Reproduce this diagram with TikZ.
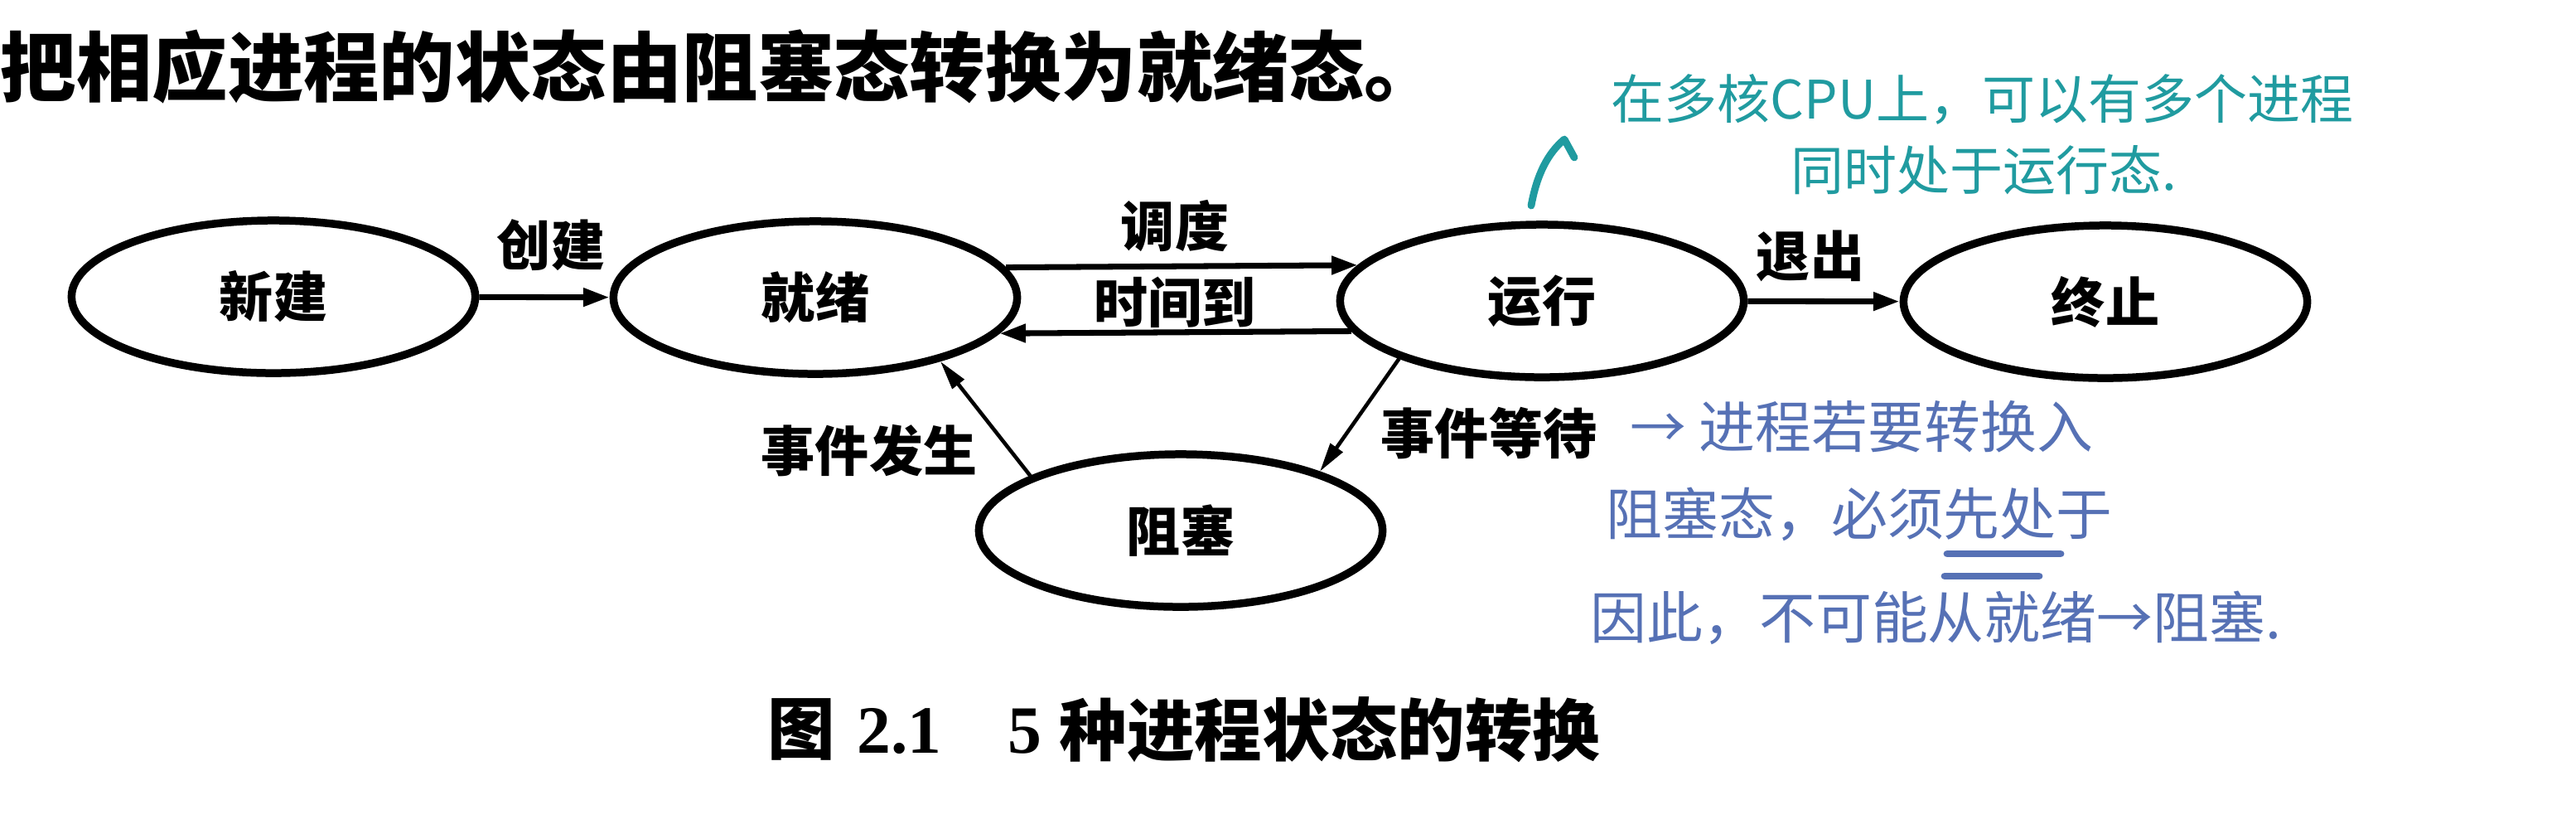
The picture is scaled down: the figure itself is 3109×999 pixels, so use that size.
\documentclass[tikz,border=0pt]{standalone}
\usepackage{fontspec}
\usetikzlibrary{shapes.geometric,arrows.meta}
\newfontfamily\cjk{Noto Sans CJK SC}
\newfontfamily\lserif{Liberation Serif}
\definecolor{hwteal}{RGB}{32,155,160}
\definecolor{hwblue}{RGB}{86,113,181}
\begin{document}
\begin{tikzpicture}[x=0.01cm,y=-0.01cm,
  state/.style={ellipse, draw, line width=2.7pt, minimum width=4.87cm, minimum height=1.84cm, inner sep=0pt,
    font=\cjk\bfseries\fontsize{18.5pt}{20pt}\selectfont},
  lbl/.style={font=\cjk\bfseries\fontsize{18.5pt}{20pt}\selectfont, inner sep=0pt},
  flow/.style={line width=2pt, -{Triangle[length=9pt,width=6pt]}},
  diag/.style={line width=1.3pt, -{Triangle[length=10pt,width=5pt]}},
  captext/.style={font=\cjk\bfseries\fontsize{23.2pt}{25pt}\selectfont, inner sep=0pt},
  capnum/.style={font=\lserif\bfseries\fontsize{23.2pt}{25pt}\selectfont, inner sep=0pt},
  hwt/.style={text=hwteal, font=\cjk\fontsize{18.2pt}{20pt}\selectfont, inner sep=0pt, anchor=west},
  hwb/.style={text=hwblue, font=\cjk\fontsize{19.3pt}{21pt}\selectfont, inner sep=0pt, anchor=west},
  stroket/.style={draw=hwteal, line width=2.5pt, line cap=round, line join=round},
  strokeb/.style={draw=hwblue, line width=2.5pt, line cap=round},
]
\fill[white] (0,0) rectangle (3109,999);
\useasboundingbox (0,0) rectangle (3109,999);

% heading line of the page
\node[anchor=west, inner sep=0pt, font=\cjk\bfseries\fontsize{26pt}{28pt}\selectfont] (head) at (0,80) {把相应进程的状态由阻塞态转换为就绪态。};

% states
\node[state] (new)   at (330,358)  {新建};
\node[state] (ready) at (984,359)  {就绪};
\node[state] (run)   at (1861,363) {运行};
\node[state] (exit)  at (2541,364) {终止};
\node[state] (block) at (1425,640) {阻塞};

% transitions
\draw[flow] (new) -- (ready);
\draw[flow] (ready.9.2) -- (run.169.65);
\draw[flow] (run.189.8) -- (ready.349);
\draw[flow] (run) -- (exit);
\draw[diag] (run.202) -- (block.23.6);
\draw[diag] (block.160) -- (ready.333);

% labels
\node[lbl] (lc) at (665,296)  {创建};
\node[lbl] (ld) at (1418,272) {调度};
\node[lbl] (lt) at (1418,365) {时间到};
\node[lbl] (lq) at (2185,309) {退出};
\node[lbl] (lw) at (1797,523) {事件等待};
\node[lbl] (lf) at (1049,544) {事件发生};

% caption
\node[captext] (cap0) at (967,880) {图};
\node[capnum, anchor=west] (cap1) at (1034,882) {2.1};
\node[capnum] (cap2) at (1237,882) {5};
\node[captext, anchor=west] (cap3) at (1278,880) {种进程状态的转换};

% handwritten notes (teal)
\node[hwt] (t1) at (1944,120) {在多核CPU上，可以有多个进程};
\node[hwt] (t2) at (2161,205) {同时处于运行态.};
\coordinate (ta) at (1848,248);
\coordinate (tb) at (1888,168);
\coordinate (tc) at (1900,190);
\draw[stroket] (ta) .. controls (1855,210) and (1868,185) .. (tb) -- (tc);

% handwritten notes (blue)
\node[hwb] (b1) at (1967,515) {→ 进程若要转换入};
\node[hwb] (b2) at (1938,620) {阻塞态，必须先处于};
\node[hwb] (b3) at (1919,745) {因此，不可能从就绪→阻塞.};
\coordinate (u1) at (2350,668);
\coordinate (u2) at (2487,668);
\coordinate (o1) at (2347,695);
\coordinate (o2) at (2461,695);
\draw[strokeb] (u1) -- (u2);
\draw[strokeb] (o1) -- (o2);
\end{tikzpicture}
\end{document}
